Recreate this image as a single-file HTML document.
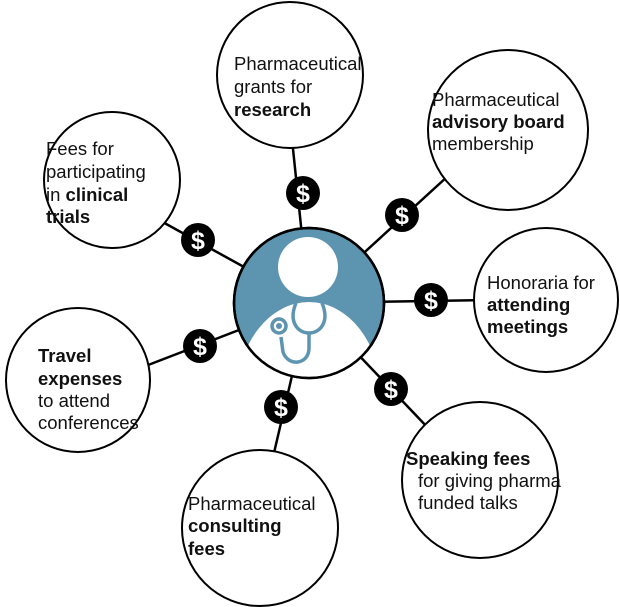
<!DOCTYPE html>
<html><head><style>
body{margin:0;background:#fff;}
svg{display:block}
text{font-family:"Liberation Sans",Arial,sans-serif;font-size:18.5px;fill:#111}
.b{font-weight:bold}
</style></head><body>
<svg width="620" height="607" viewBox="0 0 620 607">
<g stroke="#000" stroke-width="2.5">
<line x1="309" y1="303" x2="290" y2="120"/>
<line x1="309" y1="303" x2="460" y2="165"/>
<line x1="309" y1="303" x2="150" y2="215"/>
<line x1="309" y1="303" x2="490" y2="300"/>
<line x1="309" y1="303" x2="130" y2="372"/>
<line x1="309" y1="303" x2="430" y2="430"/>
<line x1="309" y1="303" x2="270" y2="470"/>
</g>
<g fill="#fff" stroke="#000" stroke-width="2">
<circle cx="290" cy="75" r="73"/>
<circle cx="508" cy="130" r="80"/>
<circle cx="112" cy="180" r="68"/>
<circle cx="546" cy="300" r="72"/>
<circle cx="78" cy="380" r="72"/>
<circle cx="480" cy="480" r="78"/>
<circle cx="260" cy="528" r="78"/>
</g>
<defs><clipPath id="c"><circle cx="309" cy="303" r="74"/></clipPath></defs>
<circle cx="309" cy="303" r="75" fill="#5d95b0" stroke="#000" stroke-width="2.5"/>
<g clip-path="url(#c)">
<ellipse cx="309" cy="395" rx="72" ry="93" fill="#fff"/>
</g>
<circle cx="308" cy="267" r="30" fill="#fff"/>
<circle cx="309" cy="303" r="75" fill="none" stroke="#000" stroke-width="2.5"/>
<g fill="none" stroke="#5d95b0" stroke-width="3.5">
<path d="M296 303 C288 322 298 333 309 333 C320 333 330 322 322 303"/>
<path d="M309 333 L309 348 C309 365 288 367 283 352 L281 337"/>
<circle cx="279" cy="326" r="7"/>
</g>
<circle cx="279" cy="326" r="3" fill="#5d95b0"/>
<g>
<circle cx="303" cy="193" r="17"/><circle cx="402" cy="215" r="17"/>
<circle cx="198" cy="240" r="17"/><circle cx="431" cy="300" r="17"/>
<circle cx="200" cy="346" r="17"/><circle cx="391" cy="389" r="17"/>
<circle cx="281" cy="407" r="17"/>
</g>
<g text-anchor="middle" font-weight="bold">
<text x="303" y="202" style="fill:#fff;font-size:25px">$</text>
<text x="402" y="224" style="fill:#fff;font-size:25px">$</text>
<text x="198" y="249" style="fill:#fff;font-size:25px">$</text>
<text x="431" y="309" style="fill:#fff;font-size:25px">$</text>
<text x="200" y="355" style="fill:#fff;font-size:25px">$</text>
<text x="391" y="398" style="fill:#fff;font-size:25px">$</text>
<text x="281" y="416" style="fill:#fff;font-size:25px">$</text>
</g>
<text x="234" y="70">Pharmaceutical</text>
<text x="234" y="93">grants for</text>
<text x="234" y="116" class="b">research</text>
<text x="432" y="106">Pharmaceutical</text>
<text x="432" y="128" class="b">advisory board</text>
<text x="432" y="150">membership</text>
<text x="46" y="155">Fees for</text>
<text x="46" y="178">participating</text>
<text x="46" y="201">in <tspan class="b">clinical</tspan></text>
<text x="46" y="223" class="b">trials</text>
<text x="487" y="289">Honoraria for</text>
<text x="487" y="311" class="b">attending</text>
<text x="487" y="333" class="b">meetings</text>
<text x="38" y="362" class="b">Travel</text>
<text x="38" y="385" class="b">expenses</text>
<text x="38" y="407">to attend</text>
<text x="38" y="429">conferences</text>
<text x="406" y="465" class="b">Speaking fees</text>
<text x="418" y="487">for giving pharma</text>
<text x="418" y="509">funded talks</text>
<text x="188" y="510">Pharmaceutical</text>
<text x="188" y="532" class="b">consulting</text>
<text x="188" y="555" class="b">fees</text>
</svg>
</body></html>
